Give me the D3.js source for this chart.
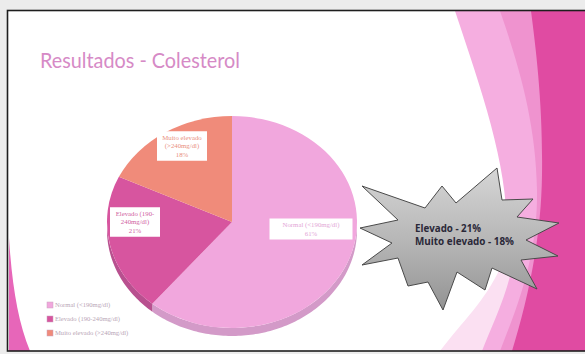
<!DOCTYPE html>
<html><head><meta charset="utf-8">
<script src="https://cdn.jsdelivr.net/npm/d3@7"></script>
<style>html,body{margin:0;padding:0;background:#fff;overflow:hidden}svg{display:block}</style>
</head><body>
<svg id="chart" width="585" height="354"></svg>
<script>
// ---- data ----
const title = "Resultados - Colesterol";
const categories = ["Normal (<190mg/dl)", "Elevado (190-240mg/dl)", "Muito elevado (>240mg/dl)"];
const values = [61, 21, 18];
const sliceNames = [["Normal (<190mg/dl)"], ["Elevado (190-", "240mg/dl)"], ["Muito elevado", "(>240mg/dl)"]];
const calloutLines = ["Elevado - 21%", "Muito elevado - 18%"];

// ---- styles / layout ----
const topColors  = ["#f1a7dd", "#d7559f", "#f08b7a"];
const sideColors = ["#d39ac8", "#b8508f", "#c66e62"];
const textColors = ["#e3a6d6", "#d0619f", "#e98f80"];
const W = 585, H = 354;
const cx = 232, cy = 222, rx = 125, ry = 106, depth = 8;

const svg = d3.select("#chart");
const defs = svg.append("defs");

// slide surround and frame
svg.append("rect").attr("width", W).attr("height", H).attr("fill", "#ececec");
svg.append("rect").attr("x", 8).attr("y", 11).attr("width", W).attr("height", 340).attr("fill", "#ffffff");

// decorative bands on the right of the slide
const deco = svg.append("g");
deco.append("path").attr("d", "M455,11 L585,11 L585,351 L468,351 C488,318 506,282 507,235 C508,165 482,92 455,11 Z").attr("fill", "#f5aee0");
deco.append("path").attr("d", "M440,351 C462,322 486,300 500,268 L512,268 C505,300 490,330 482,351 Z").attr("fill", "#fbe0f2");
deco.append("path").attr("d", "M500,11 L585,11 L585,351 L500,351 C518,305 538,255 537,190 C536,120 517,60 500,11 Z").attr("fill", "#ef93cf");
deco.append("path").attr("d", "M531,11 L585,11 L585,351 L512,351 C526,305 541,245 542,175 C543,105 536,50 531,11 Z").attr("fill", "#e04ba2");
// left accent
svg.append("path").attr("d", "M9,238 C12,285 18,322 30,351 L9,351 Z").attr("fill", "#e766b9");

svg.append("rect").attr("x", 7.5).attr("y", 10.5).attr("width", W).attr("height", 340.5)
  .attr("fill", "none").attr("stroke", "#1e1e1e").attr("stroke-width", 1.6);

// title
svg.append("text").attr("x", 40).attr("y", 68).text(title)
  .attr("font-family", "Lato, 'Open Sans', sans-serif").attr("font-size", 20.5)
  .attr("fill", "#d68ac6").attr("textLength", 200).attr("lengthAdjust", "spacingAndGlyphs");

// ---- 3D pie ----
const pie = d3.pie().sort(null).startAngle(0).endAngle(2 * Math.PI);
const arcs = pie(values);
const ptTop = t => [cx + rx * Math.sin(t), cy - ry * Math.cos(t)];
const line = d3.line();

// front walls (only the near half, PI/2 .. 3PI/2, is visible)
const walls = svg.append("g");
arcs.forEach((d, i) => {
  const s = Math.max(d.startAngle, Math.PI / 2), e = Math.min(d.endAngle, 3 * Math.PI / 2);
  if (e <= s) return;
  const ts = d3.range(s, e, 0.02).concat([e]);
  const top = ts.map(ptTop);
  const bot = top.map(p => [p[0], p[1] + depth]).reverse();
  walls.append("path").attr("d", line(top.concat(bot)) + "Z").attr("fill", sideColors[i]);
});

// top face: circular arcs squashed into an ellipse
const arc = d3.arc().innerRadius(0).outerRadius(rx);
svg.append("g").attr("transform", `translate(${cx},${cy}) scale(1,${ry / rx})`)
  .selectAll("path").data(arcs).join("path")
  .attr("d", arc).attr("fill", (d, i) => topColors[i]);

// slice labels (white boxes)
const labelBoxes = [
  { dx: 79, dy: 7, w: 83 },
  { dx: -97, dy: 0, w: 50 },
  { dx: -50, dy: -76, w: 50 }
];
const lineH = 8.5;
arcs.forEach((d, i) => {
  const lines = sliceNames[i].concat([values[i] + "%"]);
  const b = labelBoxes[i];
  const h = lines.length * lineH + 4;
  const x0 = cx + b.dx - b.w / 2, y0 = cy + b.dy - h / 2;
  const g = svg.append("g");
  g.append("rect").attr("x", x0).attr("y", y0).attr("width", b.w).attr("height", h).attr("fill", "#ffffff");
  lines.forEach((t, j) => {
    g.append("text").attr("x", cx + b.dx).attr("y", y0 + 2 + lineH * (j + 0.78))
      .attr("text-anchor", "middle").text(t)
      .attr("font-family", "'Liberation Serif', serif").attr("font-size", 6.8)
      .attr("fill", textColors[i]);
  });
});

// legend
const legend = svg.append("g");
categories.forEach((c, i) => {
  const y = 305 + i * 14;
  legend.append("rect").attr("x", 47).attr("y", y - 3).attr("width", 6).attr("height", 6)
    .attr("fill", topColors[i]).attr("stroke", "#c9a4c0").attr("stroke-width", 0.5);
  legend.append("text").attr("x", 55).attr("y", y + 2.3).text(c)
    .attr("font-family", "'Liberation Serif', serif").attr("font-size", 6.6).attr("fill", "#b9a6b6");
});

// starburst callout
const burst = [
  [360,228],[398,220],[362,186],[425,208],[442,186],[456,203],[497,168],[502,200],
  [533,199],[517,217],[559,223],[526,240],[558,256],[521,260],[537,289],[492,268],
  [485,290],[457,272],[443,310],[428,282],[408,286],[398,258],[362,265],[392,243]
];
const grad = defs.append("linearGradient").attr("id", "burstFill").attr("x1", 0).attr("y1", 0).attr("x2", 0).attr("y2", 1);
grad.append("stop").attr("offset", "0%").attr("stop-color", "#d6d6d6");
grad.append("stop").attr("offset", "55%").attr("stop-color", "#b4b4b4");
grad.append("stop").attr("offset", "100%").attr("stop-color", "#939393");
svg.append("path").attr("d", line(burst) + "Z")
  .attr("fill", "url(#burstFill)").attr("stroke", "#4a4a4a").attr("stroke-width", 1).attr("stroke-linejoin", "miter");

const calloutWidths = [66, 99];
calloutLines.forEach((t, j) => {
  svg.append("text").attr("x", 415).attr("y", 232 + j * 12.5).text(t)
    .attr("font-family", "'Open Sans', sans-serif").attr("font-weight", "bold").attr("font-size", 10)
    .attr("fill", "#2a2838").attr("textLength", calloutWidths[j]).attr("lengthAdjust", "spacingAndGlyphs");
});
</script>
</body></html>
